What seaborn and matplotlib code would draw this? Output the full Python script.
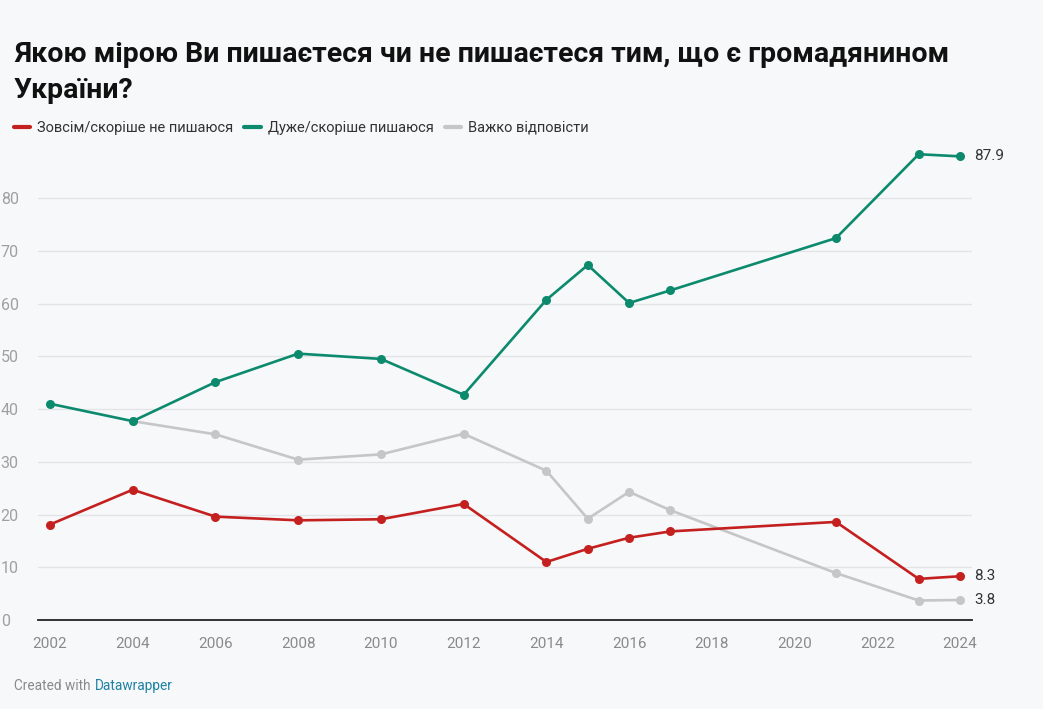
import matplotlib
matplotlib.use("Agg")
import matplotlib.pyplot as plt
from matplotlib.lines import Line2D
import seaborn as sns
import pandas as pd
import numpy as np

years = [2002, 2004, 2006, 2008, 2010, 2012, 2014, 2015, 2016, 2017, 2021, 2023, 2024]
not_proud = [18.1, 24.7, 19.6, 18.9, 19.1, 22.0, 11.0, 13.5, 15.6, 16.8, 18.6, 7.8, 8.3]
proud = [41.0, 37.7, 45.1, 50.5, 49.5, 42.7, 60.7, 67.3, 60.1, 62.5, 72.4, 88.3, 87.9]
hard = [np.nan, 37.7, 35.2, 30.4, 31.4, 35.3, 28.3, 19.2, 24.3, 20.8, 8.9, 3.7, 3.8]

names = ["Зовсім/скоріше не пишаюся", "Дуже/скоріше пишаюся", "Важко відповісти"]
colors = ["#c4201f", "#0c8a6d", "#c6c6c6"]
end_labels = ["8.3", "87.9", "3.8"]
y_ticks = [0, 10, 20, 30, 40, 50, 60, 70, 80]
x_ticks = list(range(2002, 2025, 2))

title = "Якою мірою Ви пишаєтеся чи не пишаєтеся тим, що є громадянином\nУкраїни?"

sns.set_theme(style="white")
plt.rcParams["font.family"] = ["Roboto", "DejaVu Sans"]

bg = "#f7f8fa"
fig = plt.figure(figsize=(10.43, 7.09), dpi=100, facecolor=bg)
ax = fig.add_axes([0.0364, 0.1255, 0.8956, 0.6696])
ax.set_facecolor(bg)

df = pd.DataFrame({"year": years * 3,
                   "value": not_proud + proud + hard,
                   "series": [names[0]] * len(years) + [names[1]] * len(years) + [names[2]] * len(years)})
df = df.dropna()

zorders = [3, 4, 2]
for name, col, z in zip(names, colors, zorders):
    sub = df[df["series"] == name]
    sns.lineplot(data=sub, x="year", y="value", ax=ax, color=col, linewidth=1.9,
                 marker="o", markersize=6.5, markeredgewidth=0, zorder=z, legend=False)

for series, lab, col in zip([not_proud, proud, hard], end_labels, colors):
    ax.annotate(lab, xy=(years[-1], series[-1]), xytext=(10, 0), textcoords="offset points",
                va="center", ha="left", fontsize=11, color="#333333")

ax.set_xlim(2001.71, 2024.29)
ax.set_ylim(0, 90)
ax.set_yticks(y_ticks)
ax.set_xticks(x_ticks)
ax.set_xlabel("")
ax.set_ylabel("")
for y in y_ticks[1:]:
    ax.axhline(y, color="#e3e4e6", linewidth=1, zorder=0)
for s in ["top", "right", "left"]:
    ax.spines[s].set_visible(False)
ax.spines["bottom"].set_color("#222222")
ax.spines["bottom"].set_linewidth(1.3)
ax.tick_params(axis="x", direction="out", length=6, width=1.3, color="#222222",
               labelsize=11, labelcolor="#8a8a8a", pad=6)
ax.tick_params(axis="y", length=0, labelsize=11.5, labelcolor="#a0a0a0", pad=8)
for t in ax.get_yticklabels():
    t.set_horizontalalignment("left")
    t.set_x(-0.028)

fig.text(0.0135, 0.942, title, fontsize=20.5, fontweight="bold", color="#111111",
         va="top", ha="left", linespacing=1.42)

handles = [Line2D([0], [0], color=c, linewidth=3) for c in colors]
fig.legend(handles, names, loc="center left", bbox_to_anchor=(0.0134, 0.8195), ncol=3,
           frameon=False, fontsize=10.5, handlelength=1.1, handletextpad=0.5,
           columnspacing=0.75, borderpad=0, borderaxespad=0, labelcolor="#333333")

fig.text(0.0135, 0.033, "Created with ", fontsize=9.8, color="#8a8a8a", ha="left", va="center")
fig.text(0.0911, 0.033, "Datawrapper", fontsize=9.8, color="#1d81a2", ha="left", va="center")

fig.savefig("out.png", dpi=100, facecolor=bg)
